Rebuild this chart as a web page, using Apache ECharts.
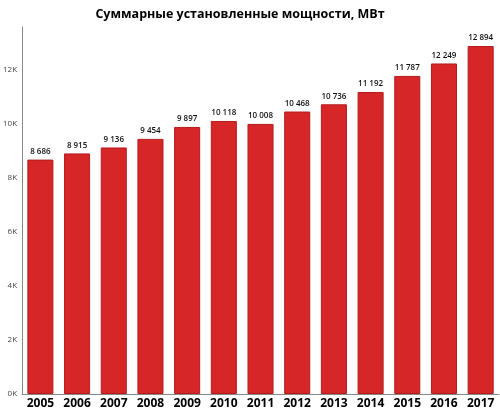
<!DOCTYPE html>
<html>
<head>
    <meta charset="utf-8">
    <script src="https://cdn.jsdelivr.net/npm/echarts@6/dist/echarts.min.js"></script>
    <style>
        html, body { margin: 0; padding: 0; background: #fff; }
    </style>
</head>
<body>
    <div id="chart" style="width: 500px;height: 416px;"></div>
    <script type="text/javascript">
        // данные
        var years = ['2005', '2006', '2007', '2008', '2009', '2010', '2011', '2012', '2013', '2014', '2015', '2016', '2017'];
        var capacity = [8686, 8915, 9136, 9454, 9897, 10118, 10008, 10468, 10736, 11192, 11787, 12249, 12894];

        var myChart = echarts.init(document.getElementById('chart'));

        var option = {
            backgroundColor: '#ffffff',
            animation: false,
            title: {
                text: 'Суммарные установленные мощности, МВт',
                left: 235,
                textAlign: 'center',
                top: 3,
                textStyle: {
                    fontFamily: 'Open Sans',
                    fontWeight: 'bold',
                    fontSize: 12.5,
                    color: '#000'
                }
            },
            grid: {
                left: 22,
                right: 1,
                top: 27,
                bottom: 22
            },
            xAxis: {
                type: 'category',
                data: years,
                axisLine: { lineStyle: { color: '#888', width: 1 } },
                axisTick: { show: false },
                axisLabel: {
                    color: '#000',
                    fontWeight: 'bold',
                    fontSize: 12,
                    fontFamily: 'Open Sans',
                    margin: 4
                }
            },
            yAxis: {
                type: 'value',
                min: 0,
                max: 13600,
                interval: 2000,
                splitLine: { show: false },
                axisLine: { show: true, lineStyle: { color: '#888', width: 1 } },
                axisTick: { show: false },
                axisLabel: {
                    showMaxLabel: false,
                    color: '#444',
                    fontSize: 8,
                    fontFamily: 'Open Sans',
                    margin: 5,
                    formatter: function (v) {
                        return (v / 1000) + 'K';
                    }
                }
            },
            series: [{
                type: 'bar',
                data: capacity,
                barCategoryGap: '29%',
                itemStyle: {
                    color: '#d62628',
                    borderColor: '#b31c1e',
                    borderWidth: 1
                },
                label: {
                    show: true,
                    position: 'top',
                    distance: 4,
                    color: '#111',
                    fontSize: 8,
                    fontWeight: 600,
                    fontFamily: 'Open Sans',
                    formatter: function (p) {
                        return String(p.value).replace(/\B(?=(\d{3})+(?!\d))/g, ' ');
                    }
                }
            }]
        };
        myChart.setOption(option);
    </script>
</body>
</html>
